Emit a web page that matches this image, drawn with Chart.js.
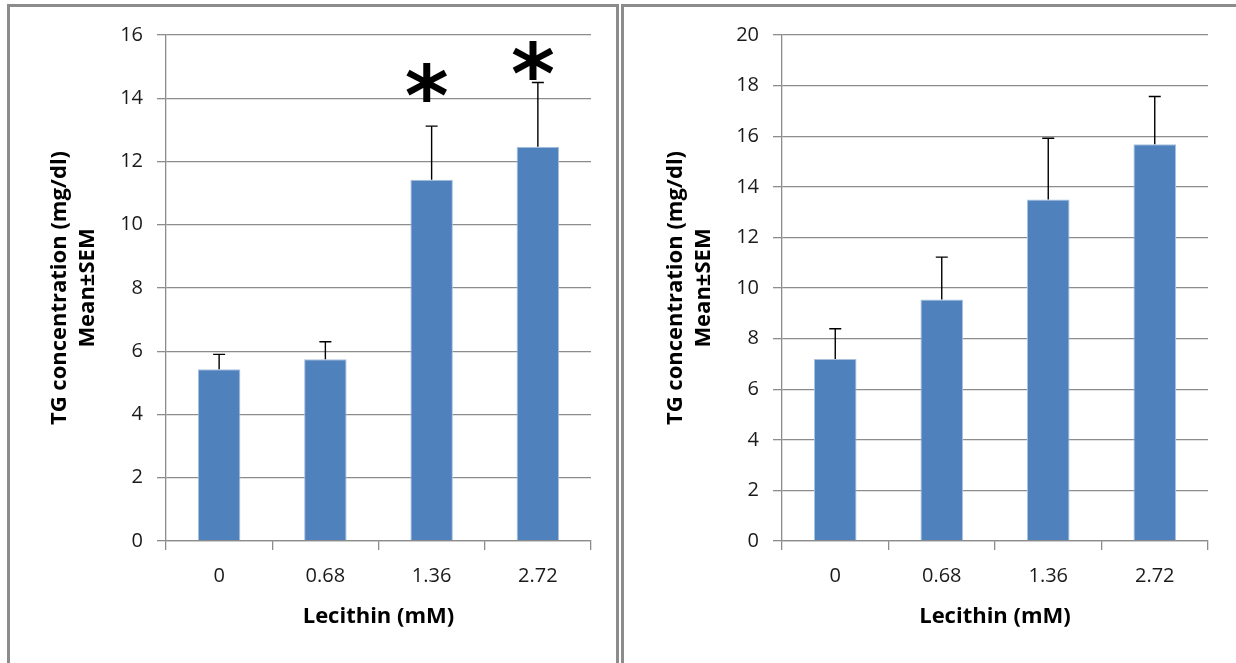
<!DOCTYPE html>
<html>
<head>
<meta charset="utf-8">
<script src="https://cdn.jsdelivr.net/npm/chart.js@4.4.1/dist/chart.umd.min.js"></script>
<style>
    html, body { margin: 0; padding: 0; background: #fff; overflow: hidden; }
    body { width: 1236px; height: 663px; position: relative; }
    .panel { position: absolute; top: 4px; height: 720px; box-sizing: border-box; border: 3px solid #8c8c8c; }
    #leftPanel { left: 7px; width: 612px; }
    #rightPanel { left: 621px; width: 700px; }
    canvas { position: absolute; top: 0; }
    #leftChart { left: 0; }
    #rightChart { left: 620px; }
</style>
</head>
<body>
<div class="panel" id="leftPanel"></div>
<div class="panel" id="rightPanel"></div>
<canvas id="leftChart" width="620" height="663"></canvas>
<canvas id="rightChart" width="616" height="663"></canvas>
<script>
// Lecithin doses (x categories)
const doses = ['0', '0.68', '1.36', '2.72'];

// left panel: TG mean and SEM, asterisk heights (in mg/dl units)
const tgLeft = [5.43, 5.75, 11.42, 12.47];
const semLeft = [0.47, 0.55, 1.70, 2.03];
const starLeft = [null, null, 14.5, 15.2];
const yMaxLeft = 16;

// right panel
const tgRight = [7.19, 9.55, 13.5, 15.68];
const semRight = [1.20, 1.67, 2.42, 1.89];
const starRight = [null, null, null, null];
const yMaxRight = 20;

const yStep = 2;
const yTitle = ['TG concentration (mg/dl)', 'Mean\u00B1SEM'];
const xTitle = 'Lecithin (mM)';

const gridColor = '#8c8c8c';
const barColor = '#4f81bd';
const tickFont = { family: '"Open Sans", sans-serif', size: 20 };
const titleFont = { family: '"Open Sans", sans-serif', size: 22, weight: 'bold', lineHeight: 1.27 };

// error bars (upper half only) + significance stars
const errorBars = {
    id: 'errorBars',
    afterDatasetsDraw(chart, args, opts) {
        const { ctx } = chart;
        const y = chart.scales.y;
        const meta = chart.getDatasetMeta(0);
        ctx.save();
        ctx.strokeStyle = '#000';
        ctx.lineWidth = 1.4;
        meta.data.forEach((bar, i) => {
            const top = y.getPixelForValue(opts.values[i] + opts.sem[i]);
            ctx.beginPath();
            ctx.moveTo(bar.x, bar.y);
            ctx.lineTo(bar.x, top);
            ctx.moveTo(bar.x - 6, top);
            ctx.lineTo(bar.x + 6, top);
            ctx.stroke();

            if (opts.stars[i] != null) {
                ctx.font = 'bold 84px "DejaVu Sans"';
                ctx.fillStyle = '#000';
                ctx.textAlign = 'center';
                ctx.textBaseline = 'alphabetic';
                const m = ctx.measureText('*');
                const cy = y.getPixelForValue(opts.stars[i]);
                const base = cy + (m.actualBoundingBoxAscent - m.actualBoundingBoxDescent) / 2;
                ctx.fillText('*', bar.x - 5, base);
            }
        });
        ctx.restore();
    }
};

function makeConfig(values, sem, stars, yMax, axisWidth, padRight, titlePad) {
    return {
        type: 'bar',
        data: {
            labels: doses,
            datasets: [{
                data: values,
                backgroundColor: barColor,
                borderColor: '#a9c1df',
                borderWidth: 1,
                barPercentage: 0.4,
                categoryPercentage: 1
            }]
        },
        options: {
            responsive: false,
            animation: false,
            devicePixelRatio: 1,
            layout: { padding: { top: 35, right: padRight, left: 0, bottom: 0 } },
            plugins: {
                legend: { display: false },
                tooltip: { enabled: false },
                errorBars: { values: values, sem: sem, stars: stars }
            },
            scales: {
                x: {
                    afterFit: (s) => { s.height = 122; },
                    grid: { drawOnChartArea: false, drawTicks: true, tickLength: 9, color: gridColor, lineWidth: 1.3 },
                    border: { color: gridColor, width: 1.3 },
                    ticks: { color: '#1a1a1a', font: tickFont, padding: 14 },
                    title: { display: true, text: xTitle, color: '#000', font: titleFont, padding: { top: 0, bottom: 32 } }
                },
                y: {
                    min: 0,
                    max: yMax,
                    afterFit: (s) => { s.width = axisWidth; },
                    grid: { color: gridColor, lineWidth: 1.3, tickLength: 9 },
                    border: { color: gridColor, width: 1.3 },
                    ticks: { stepSize: yStep, color: '#1a1a1a', font: tickFont, padding: 14 },
                    title: { display: true, text: yTitle, color: '#000', font: titleFont, padding: { top: titlePad, bottom: 0 } }
                }
            }
        },
        plugins: [errorBars]
    };
}

document.addEventListener('DOMContentLoaded', (event) => {
    new Chart(document.getElementById('leftChart').getContext('2d'),
        makeConfig(tgLeft, semLeft, starLeft, yMaxLeft, 166, 29, 46));
    new Chart(document.getElementById('rightChart').getContext('2d'),
        makeConfig(tgRight, semRight, starRight, yMaxRight, 162, 28, 42));
});
</script>
</body>
</html>
